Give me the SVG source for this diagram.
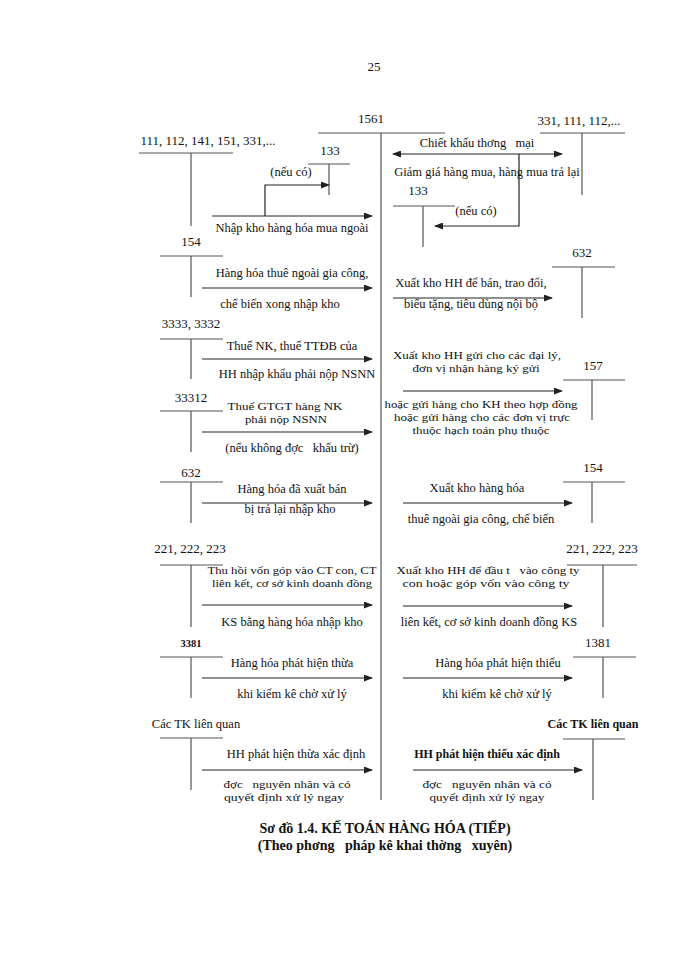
<svg xmlns="http://www.w3.org/2000/svg" width="700" height="960" viewBox="0 0 700 960">
<defs>
<marker id="ah" markerUnits="userSpaceOnUse" markerWidth="9" markerHeight="7" refX="8" refY="3.5" orient="auto-start-reverse">
<path d="M0,0 L9,3.5 L0,7 z" fill="#222"/>
</marker>
</defs>
<style>
text{font-family:"Liberation Serif","Times New Roman",serif;font-size:12.5px;fill:#111;text-anchor:middle;white-space:pre}
.b{font-weight:bold}
.n{font-size:13px}
.s{font-size:11px}
.t line{stroke:#555;stroke-width:1.2}
#connectors line,#connectors polyline{stroke:#222;stroke-width:1.2;fill:none;marker-end:url(#ah)}
.cap{font-size:14px;font-weight:bold}
</style>
<rect width="700" height="960" fill="#fff"/>
<text x="374" y="71" style="font-size:13px">25</text>

<g id="acc1561" class="t"><line x1="318" y1="133" x2="445" y2="133"/><line x1="381" y1="133" x2="381" y2="800"/><text x="371" y="123" class="n">1561</text></g>
<g id="acc331" class="t"><line x1="540" y1="133" x2="625" y2="133"/><line x1="582" y1="133" x2="582" y2="195"/><text x="579" y="125" class="n">331, 111, 112,...</text></g>
<g id="acc111" class="t"><line x1="139" y1="153" x2="233" y2="153"/><line x1="191" y1="153" x2="191" y2="226"/><text x="208" y="145" class="n">111, 112, 141, 151, 331,...</text></g>
<g id="acc133L" class="t"><line x1="308" y1="164" x2="350" y2="164"/><line x1="329" y1="164" x2="329" y2="195"/><text x="330" y="155" class="n">133</text></g>
<g id="acc133R" class="t"><line x1="393" y1="206" x2="455" y2="206"/><line x1="423" y1="206" x2="423" y2="247"/><text x="418" y="195" class="n">133</text></g>
<g id="acc154L" class="t"><line x1="160" y1="256" x2="223" y2="256"/><line x1="191" y1="256" x2="191" y2="297"/><text x="191" y="246" class="n">154</text></g>
<g id="acc3333" class="t"><line x1="160" y1="339" x2="223" y2="339"/><line x1="191" y1="339" x2="191" y2="379"/><text x="191" y="328" class="n">3333, 3332</text></g>
<g id="acc33312" class="t"><line x1="160" y1="411" x2="223" y2="411"/><line x1="191" y1="411" x2="191" y2="452"/><text x="191" y="402" class="n">33312</text></g>
<g id="acc632R" class="t"><line x1="552" y1="267" x2="615" y2="267"/><line x1="582" y1="267" x2="582" y2="318"/><text x="582" y="257" class="n">632</text></g>
<g id="acc157" class="t"><line x1="563" y1="380" x2="625" y2="380"/><line x1="592" y1="380" x2="592" y2="420"/><text x="593" y="370" class="n">157</text></g>
<g id="acc632L" class="t"><line x1="160" y1="482" x2="223" y2="482"/><line x1="191" y1="482" x2="191" y2="523"/><text x="191" y="477" class="n">632</text></g>
<g id="acc154R" class="t"><line x1="563" y1="482" x2="625" y2="482"/><line x1="592" y1="482" x2="592" y2="523"/><text x="593" y="472" class="n">154</text></g>
<g id="acc221L" class="t"><line x1="160" y1="565" x2="223" y2="565"/><line x1="191" y1="565" x2="191" y2="627"/><text x="190" y="553" class="n">221, 222, 223</text></g>
<g id="acc221R" class="t"><line x1="567" y1="565" x2="637" y2="565"/><line x1="603" y1="565" x2="603" y2="627"/><text x="602" y="553" class="n">221, 222, 223</text></g>
<g id="acc3381" class="t"><line x1="160" y1="657" x2="223" y2="657"/><line x1="191" y1="657" x2="191" y2="698"/><text x="191" y="647" class="b" style="font-size:10.5px">3381</text></g>
<g id="acc1381" class="t"><line x1="573" y1="657" x2="636" y2="657"/><line x1="603" y1="657" x2="603" y2="698"/><text x="598" y="647" class="n">1381</text></g>
<g id="accTKL" class="t"><line x1="160" y1="738" x2="223" y2="738"/><line x1="191" y1="738" x2="191" y2="790"/><text x="196" y="728">Các TK liên quan</text></g>
<g id="accTKR" class="t"><line x1="563" y1="739" x2="625" y2="739"/><line x1="593" y1="739" x2="593" y2="800"/><text x="593" y="728" class="b" style="font-size:12px">Các TK liên quan</text></g>

<g id="connectors">
<line x1="212" y1="216" x2="372" y2="216"/>
<polyline points="265,216 265,185 329,185"/>
<line x1="393" y1="154" x2="562" y2="154" style="marker-start:url(#ah)"/>
<polyline points="519,154 519,226 435,226"/>
<line x1="202" y1="288" x2="372" y2="288"/>
<line x1="202" y1="359" x2="372" y2="359"/>
<line x1="202" y1="432" x2="372" y2="432"/>
<line x1="393" y1="298" x2="552" y2="298"/>
<line x1="403" y1="391" x2="562" y2="391"/>
<line x1="202" y1="503" x2="372" y2="503"/>
<line x1="403" y1="503" x2="572" y2="503"/>
<line x1="202" y1="605" x2="372" y2="605"/>
<line x1="403" y1="606" x2="572" y2="606"/>
<line x1="202" y1="678" x2="372" y2="678"/>
<line x1="403" y1="678" x2="572" y2="678"/>
<line x1="202" y1="770" x2="372" y2="770"/>
<line x1="413" y1="770" x2="582" y2="770"/>
</g>

<g id="labels">
<text x="291" y="176">(nếu có)</text>
<text x="292" y="232">Nhập kho hàng hóa mua ngoài</text>
<text x="477" y="147">Chiết khấu thơng   mại</text>
<text x="487" y="176">Giảm giá hàng mua, hàng mua trả lại</text>
<text x="476" y="215">(nếu có)</text>
<text x="292" y="277">Hàng hóa thuê ngoài gia công,</text>
<text x="280" y="308">chế biến xong nhập kho</text>
<text x="292" y="350">Thuế NK, thuế TTĐB của</text>
<text x="297" y="378">HH nhập khẩu phải nộp NSNN</text>
<text x="285" y="410" class="s" textLength="115" lengthAdjust="spacingAndGlyphs">Thuế GTGT hàng NK</text>
<text x="286" y="423" class="s" textLength="82" lengthAdjust="spacingAndGlyphs">phải nộp NSNN</text>
<text x="292" y="452">(nếu không đợc   khấu trừ)</text>
<text x="471" y="287">Xuất kho HH để bán, trao đổi,</text>
<text x="471" y="308">biếu tặng, tiêu dùng nội bộ</text>
<text x="477" y="359" class="s" textLength="168" lengthAdjust="spacingAndGlyphs">Xuất kho HH gửi cho các đại lý,</text>
<text x="476" y="372" class="s" textLength="127" lengthAdjust="spacingAndGlyphs">đơn vị nhận hàng ký gửi</text>
<text x="481" y="408" class="s" textLength="193" lengthAdjust="spacingAndGlyphs">hoặc gửi hàng cho KH theo hợp đồng</text>
<text x="482" y="421" class="s" textLength="176" lengthAdjust="spacingAndGlyphs">hoặc gửi hàng cho các đơn vị trực</text>
<text x="481" y="434" class="s" textLength="137" lengthAdjust="spacingAndGlyphs">thuộc hạch toán phụ thuộc</text>
<text x="292" y="493">Hàng hóa đã xuất bán</text>
<text x="290" y="513">bị trả lại nhập kho</text>
<text x="477" y="492">Xuất kho hàng hóa</text>
<text x="481" y="523">thuê ngoài gia công, chế biến</text>
<text x="292" y="574" class="s" textLength="169" lengthAdjust="spacingAndGlyphs">Thu hồi vốn góp vào CT con, CT</text>
<text x="292" y="587" class="s" textLength="160" lengthAdjust="spacingAndGlyphs">liên kết, cơ sở kinh doanh đồng</text>
<text x="292" y="626">KS bằng hàng hóa nhập kho</text>
<text x="488" y="574" class="s" textLength="183" lengthAdjust="spacingAndGlyphs">Xuất kho HH để đầu t   vào công ty</text>
<text x="486" y="587" class="s" textLength="167" lengthAdjust="spacingAndGlyphs">con hoặc góp vốn vào công ty</text>
<text x="489" y="626">liên kết, cơ sở kinh doanh đồng KS</text>
<text x="292" y="667">Hàng hóa phát hiện thừa</text>
<text x="292" y="698">khi kiểm kê chờ xử lý</text>
<text x="498" y="667">Hàng hóa phát hiện thiếu</text>
<text x="497" y="698">khi kiểm kê chờ xử lý</text>
<text x="296" y="758">HH phát hiện thừa xác định</text>
<text x="287" y="788" class="s" textLength="127" lengthAdjust="spacingAndGlyphs">đợc   nguyên nhân và có</text>
<text x="284" y="801" class="s" textLength="120" lengthAdjust="spacingAndGlyphs">quyết định xử lý ngay</text>
<text x="487" y="758" class="b" style="font-size:12px">HH phát hiện thiếu xác định</text>
<text x="487" y="788" class="s" textLength="129" lengthAdjust="spacingAndGlyphs">đợc   nguyên nhân và có</text>
<text x="487" y="801" class="s" textLength="115" lengthAdjust="spacingAndGlyphs">quyết định xử lý ngay</text>
<text x="385" y="833" class="cap">Sơ đồ 1.4. KẾ TOÁN HÀNG HÓA (TIẾP)</text>
<text x="385" y="850" class="cap">(Theo phơng   pháp kê khai thờng   xuyên)</text>
</g>
</svg>
